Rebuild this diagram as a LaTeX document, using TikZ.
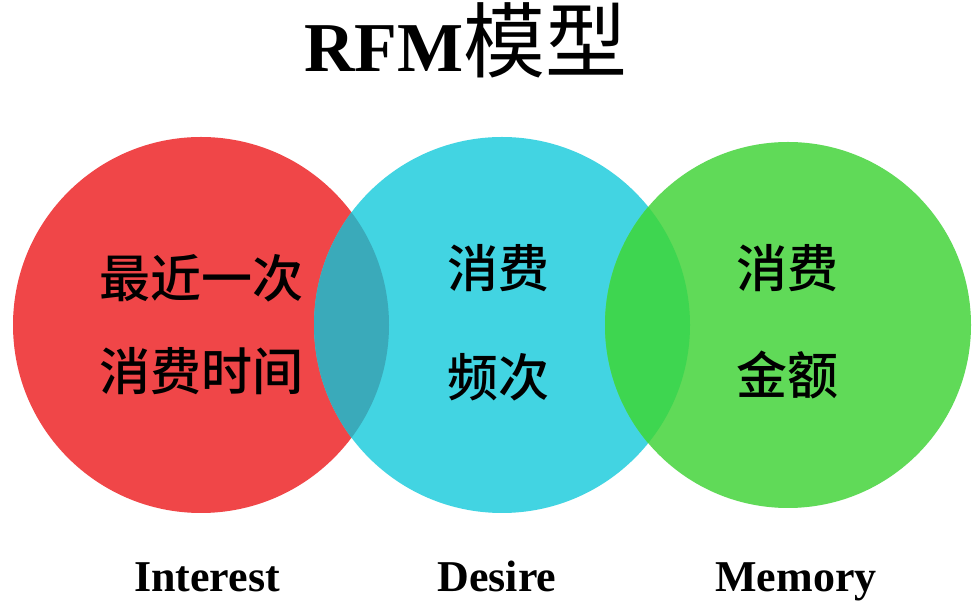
\documentclass[tikz,border=0pt]{standalone}
\usepackage{fontspec}
\setmainfont{Liberation Serif}
\newfontfamily\cjk{Noto Sans CJK SC}[BoldFont={Noto Sans CJK SC Medium}]
\definecolor{cred}{RGB}{240,70,72}
\definecolor{ccyan}{RGB}{66,212,226}
\definecolor{cgreen}{RGB}{96,218,88}
\definecolor{crc}{RGB}{58,170,186}
\definecolor{ccg}{RGB}{62,214,80}
\tikzset{
  cjktxt/.style={inner sep=0pt, font=\cjk\bfseries\fontsize{51}{51}\selectfont, text=black},
  lbl/.style={inner sep=0pt, anchor=base, font=\bfseries\fontsize{44}{44}\selectfont},
}
\begin{document}
\begin{tikzpicture}[x=1pt,y=1pt]
\useasboundingbox (0,0) rectangle (974,604);
\fill[white] (0,0) rectangle (974,604);
% circles
\fill[cred] (201,279) circle (188);
\fill[ccyan] (502,279) circle (188);
\fill[cgreen] (788,279) circle (183);
\begin{scope}
  \clip (201,279) circle (188);
  \fill[crc] (502,279) circle (188);
\end{scope}
\begin{scope}
  \clip (502,279) circle (188);
  \fill[ccg] (788,279) circle (183);
\end{scope}
% title
\node[inner sep=0pt, anchor=base] (title) at (466,532)
  {\bfseries\fontsize{70}{70}\selectfont RFM{\cjk\mdseries\fontsize{82}{82}\selectfont 模型}};
% texts
\node[cjktxt] (r1) at (201,326) {最近一次};
\node[cjktxt] (r2) at (201,233) {消费时间};
\node[cjktxt] (f1) at (498,336) {消费};
\node[cjktxt] (f2) at (498,227) {频次};
\node[cjktxt] (m1) at (787,336) {消费};
\node[cjktxt] (m2) at (787,229) {金额};
% labels
\node[lbl] (li) at (207,12) {Interest};
\node[lbl] (ld) at (497,12) {Desire};
\node[lbl] (lm) at (796,12) {Memory};
\end{tikzpicture}
\end{document}
